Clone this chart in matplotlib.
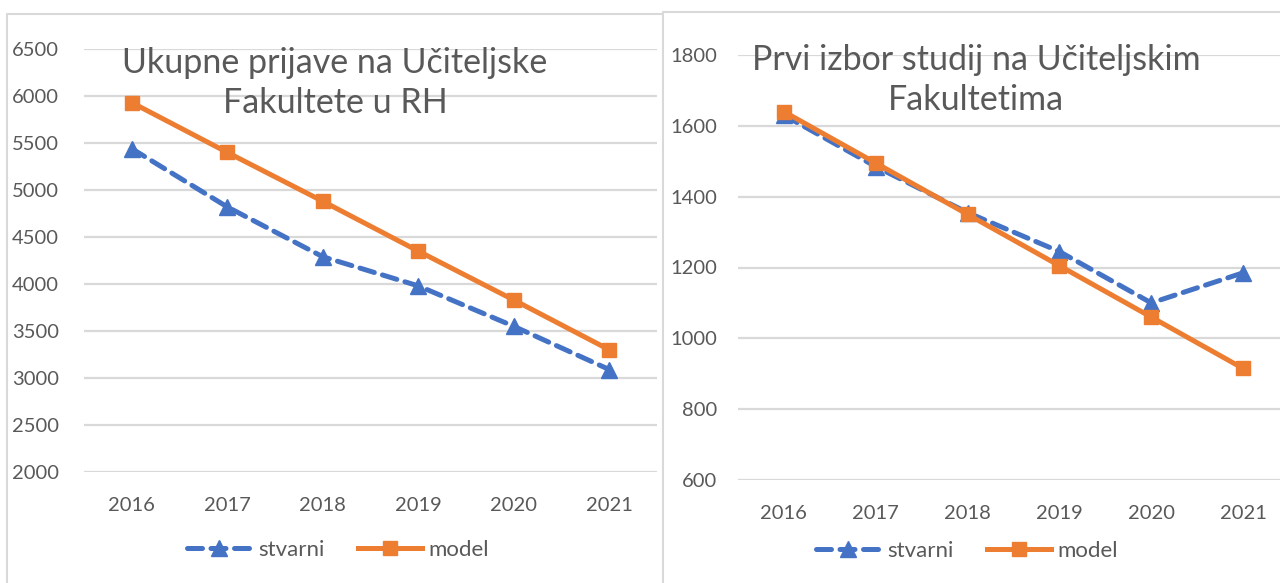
import numpy as np
import matplotlib.pyplot as plt
from matplotlib.lines import Line2D

plt.rcParams['font.family'] = ['Lato', 'DejaVu Sans']

years = ['2016', '2017', '2018', '2019', '2020', '2021']

# ukupne prijave
ukupno_stvarni = [5440, 4820, 4290, 3980, 3550, 3090]
ukupno_model = [5930, 5400, 4880, 4350, 3830, 3300]

# prvi izbor
prvi_stvarni = [1630, 1485, 1355, 1245, 1100, 1185]
prvi_model = [1640, 1495, 1350, 1205, 1060, 915]

BLUE = '#4472C4'
ORANGE = '#ED7D31'
GRID = '#D9D9D9'
TXT = '#595959'

W, H = 1280, 583
fig = plt.figure(figsize=(W / 100, H / 100), dpi=100)


def px(x0, y0, x1, y1):
	# pixel box (top-left origin) -> figure fraction rect
	return [x0 / W, 1 - y1 / H, (x1 - x0) / W, (y1 - y0) / H]


def draw_chart(ax, stvarni, model, ylim, step, ypad):
	x = np.arange(len(years))
	ax.plot(x, stvarni, color=BLUE, lw=3.6, ls=(0, (3.0, 1.7)), dash_capstyle='round',
		marker='^', ms=11, label='stvarni', zorder=3)
	ax.plot(x, model, color=ORANGE, lw=3.6, marker='s', ms=10.5, label='model', zorder=4)
	ax.set_xlim(-0.5, len(years) - 0.5)
	ax.set_ylim(*ylim)
	ax.set_yticks(np.arange(ylim[0], ylim[1] + 1, step))
	ax.set_xticks(x)
	ax.set_xticklabels(years)
	for s in ax.spines.values():
		s.set_visible(False)
	ax.grid(axis='y', color=GRID, lw=1.6)
	ax.set_axisbelow(True)
	ax.tick_params(axis='both', length=0, labelsize=14.5, labelcolor=TXT)
	ax.tick_params(axis='x', pad=18)
	ax.tick_params(axis='y', pad=ypad)


ax1 = fig.add_axes(px(84, 49, 657, 472))
draw_chart(ax1, ukupno_stvarni, ukupno_model, (2000, 6500), 500, 18)

ax2 = fig.add_axes(px(738, 55, 1289, 480))
draw_chart(ax2, prvi_stvarni, prvi_model, (600, 1800), 200, 15)

# chart borders
for xs, ys in [([7, 7, 662], [H, 14, 14]), ([663, 663, W], [H, 12, 12])]:
	fig.add_artist(Line2D([v / W for v in xs], [1 - v / H for v in ys],
		color=GRID, lw=1.5, transform=fig.transFigure))

fig.text(335 / W, 1 - 83 / H, 'Ukupne prijave na Učiteljske\nFakultete u RH',
	ha='center', va='center', multialignment='center', fontsize=24.5, color=TXT, linespacing=1.3)
fig.text(976 / W, 1 - 80 / H, 'Prvi izbor studij na Učiteljskim\nFakultetima',
	ha='center', va='center', multialignment='center', fontsize=24.5, color=TXT, linespacing=1.3)

for ax, cx, cy in [(ax1, 338, 550), (ax2, 967, 551)]:
	h, l = ax.get_legend_handles_labels()
	fig.legend(h, l, loc='center', bbox_to_anchor=(cx / W, 1 - cy / H), ncol=2, frameon=False,
		fontsize=16, labelcolor=TXT, handlelength=2.9, handletextpad=0.3, columnspacing=1.5)

fig.savefig('out.png', dpi=100)
